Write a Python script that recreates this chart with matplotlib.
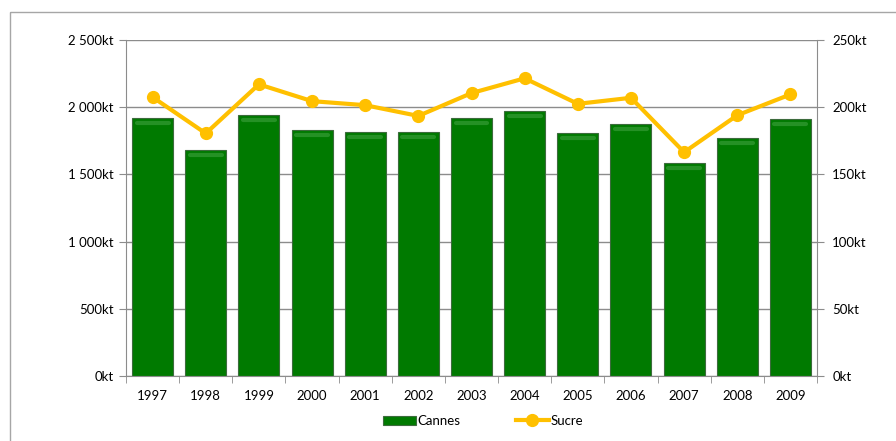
import matplotlib.pyplot as plt
from matplotlib.patches import Rectangle
import numpy as np

# Production data (kt)
years = ['1997', '1998', '1999', '2000', '2001', '2002', '2003',
         '2004', '2005', '2006', '2007', '2008', '2009']
cannes = [1920, 1682, 1942, 1830, 1815, 1815, 1920, 1972, 1808, 1875, 1585, 1771, 1912]
sucre = [207.5, 180.5, 217, 204.5, 201.5, 193.5, 210.5, 221.5, 202.5, 207, 166.5, 194, 209.5]

left_ticks = [0, 500, 1000, 1500, 2000, 2500]
right_ticks = [0, 50, 100, 150, 200, 250]

BAR_COLOR = '#007a00'
LINE_COLOR = '#ffc000'
GRID_COLOR = '#8c8c8c'

plt.rcParams['font.family'] = ['Lato', 'DejaVu Sans']

fig = plt.figure(figsize=(8.96, 4.41), dpi=100)
fig.patch.set_facecolor('white')
# outer chart frame
fig.add_artist(Rectangle((10 / 896, 1 - 12 / 441), 1, -1, transform=fig.transFigure,
                         fill=False, edgecolor='#a6a6a6', linewidth=1))

ax = fig.add_axes([126 / 896, 1 - 376 / 441, (817 - 126) / 896, (376 - 40) / 441])
x = np.arange(len(years))

ax.bar(x, cannes, width=0.77, color=BAR_COLOR, edgecolor='#3d6b3d', linewidth=0.8,
       zorder=2, label='Cannes')
# glossy highlight near bar tops
for xi, v in zip(x, cannes):
    ax.plot([xi - 0.3, xi + 0.3], [v - 40, v - 40], color='#259125', linewidth=3,
            solid_capstyle='round', zorder=3)

ax.set_xlim(-0.5, len(years) - 0.5)
ax.set_ylim(0, 2500)
ax.set_yticks(left_ticks)
ax.set_yticklabels([(f'{t // 1000} {t % 1000:03d}kt' if t >= 1000 else f'{t}kt') for t in left_ticks])
ax.yaxis.grid(True, color=GRID_COLOR, linewidth=1, zorder=0)
ax.set_axisbelow(True)

ax.set_xticks(x)
ax.set_xticklabels(years)
ax.set_xticks(np.arange(-0.5, len(years)), minor=True)
ax.tick_params(axis='x', which='major', length=0, pad=10, labelsize=9.5)
ax.tick_params(axis='x', which='minor', length=5, color=GRID_COLOR)
ax.tick_params(axis='y', length=5, color=GRID_COLOR, labelsize=9.5, pad=4)

for side in ['top', 'right']:
    ax.spines[side].set_visible(False)
for side in ['left', 'bottom']:
    ax.spines[side].set_color(GRID_COLOR)

ax2 = ax.twinx()
ax2.plot(x, sucre, color=LINE_COLOR, linewidth=3, marker='o', markersize=8.5,
         markerfacecolor=LINE_COLOR, markeredgecolor=LINE_COLOR, zorder=4, label='Sucre')
ax2.set_ylim(0, 250)
ax2.set_yticks(right_ticks)
ax2.set_yticklabels([f'{t}kt' for t in right_ticks])
ax2.tick_params(axis='y', length=5, color=GRID_COLOR, labelsize=9.5, pad=6)
for side in ['top', 'left', 'bottom']:
    ax2.spines[side].set_visible(False)
ax2.spines['right'].set_color(GRID_COLOR)

h1, l1 = ax.get_legend_handles_labels()
h2, l2 = ax2.get_legend_handles_labels()
fig.legend(h1 + h2, l1 + l2, loc='center', bbox_to_anchor=(483 / 896, 1 - 421 / 441),
           ncol=2, frameon=False, fontsize=9.5, handlelength=2.5, columnspacing=4.2,
           handletextpad=0.15)

fig.savefig('out.png', dpi=100)
